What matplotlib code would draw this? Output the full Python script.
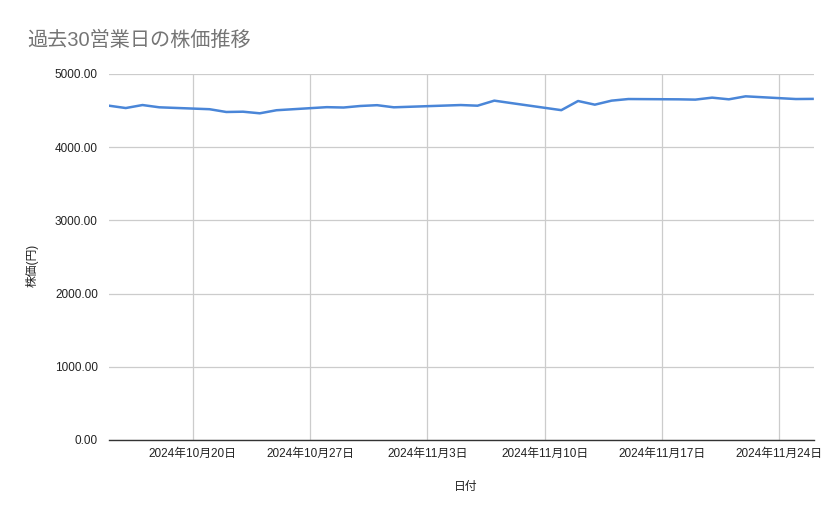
import matplotlib
matplotlib.use("Agg")
import matplotlib.pyplot as plt
import datetime as dt

plt.rcParams['font.family'] = ['Liberation Sans', 'Noto Sans CJK JP', 'DejaVu Sans']

title = "過去30営業日の株価推移"
xlabel = "日付"
ylabel = "株価(円)"

dates = [
    "2024-10-15", "2024-10-16", "2024-10-17", "2024-10-18",
    "2024-10-21", "2024-10-22", "2024-10-23", "2024-10-24", "2024-10-25",
    "2024-10-28", "2024-10-29", "2024-10-30", "2024-10-31", "2024-11-01",
    "2024-11-05", "2024-11-06", "2024-11-07", "2024-11-08",
    "2024-11-11", "2024-11-12", "2024-11-13", "2024-11-14", "2024-11-15",
    "2024-11-18", "2024-11-19", "2024-11-20", "2024-11-21", "2024-11-22",
    "2024-11-25", "2024-11-26",
]
prices = [
    4567, 4535, 4576, 4545,
    4519, 4481, 4485, 4463, 4505,
    4547, 4542, 4563, 4574, 4545,
    4576, 4567, 4636, 4603,
    4506, 4631, 4581, 4636, 4658,
    4654, 4650, 4677, 4654, 4695,
    4658, 4660,
]
yticks = [0, 1000, 2000, 3000, 4000, 5000]
xtick_dates = ["2024-10-20", "2024-10-27", "2024-11-03",
               "2024-11-10", "2024-11-17", "2024-11-24"]

x = [dt.datetime.strptime(d, "%Y-%m-%d") for d in dates]
xt = [dt.datetime.strptime(d, "%Y-%m-%d") for d in xtick_dates]

W, H = 839, 519
fig = plt.figure(figsize=(W / 100, H / 100), dpi=100)
L, R, T, B = 109, 814, 74, 440
ax = fig.add_axes([L / W, (H - B) / H, (R - L) / W, (B - T) / H])

ax.plot(x, prices, color="#4a86d8", linewidth=1.8, solid_joinstyle="round")

ax.set_ylim(0, 5000)
ax.set_xlim(x[0], x[-1] + dt.timedelta(hours=2))
ax.set_yticks(yticks)
ax.set_yticklabels([f"{v:.2f}" for v in yticks])
ax.set_xticks(xt)
ax.set_xticklabels([f"{d.year}年{d.month}月{d.day}日" for d in xt])

ax.grid(True, color="#cccccc", linewidth=0.9)
ax.set_axisbelow(True)
for s in ["top", "right", "left"]:
    ax.spines[s].set_visible(False)
ax.spines["bottom"].set_color("#333333")
ax.spines["bottom"].set_linewidth(1.0)
ax.tick_params(axis="both", length=0, labelsize=8.5, labelcolor="#222222")
ax.tick_params(axis="y", pad=8)
ax.tick_params(axis="x", pad=6)

fig.text(27 / W, 1 - 40 / H, title, fontsize=14.5, color="#757575",
         ha="left", va="center")
fig.text(32 / W, 1 - 265 / H, ylabel, fontsize=8.5, color="#222222",
         rotation=90, ha="center", va="center")
fig.text(466 / W, 1 - 487 / H, xlabel, fontsize=8.5, color="#222222",
         ha="center", va="center")

fig.savefig("out.png", dpi=100)
